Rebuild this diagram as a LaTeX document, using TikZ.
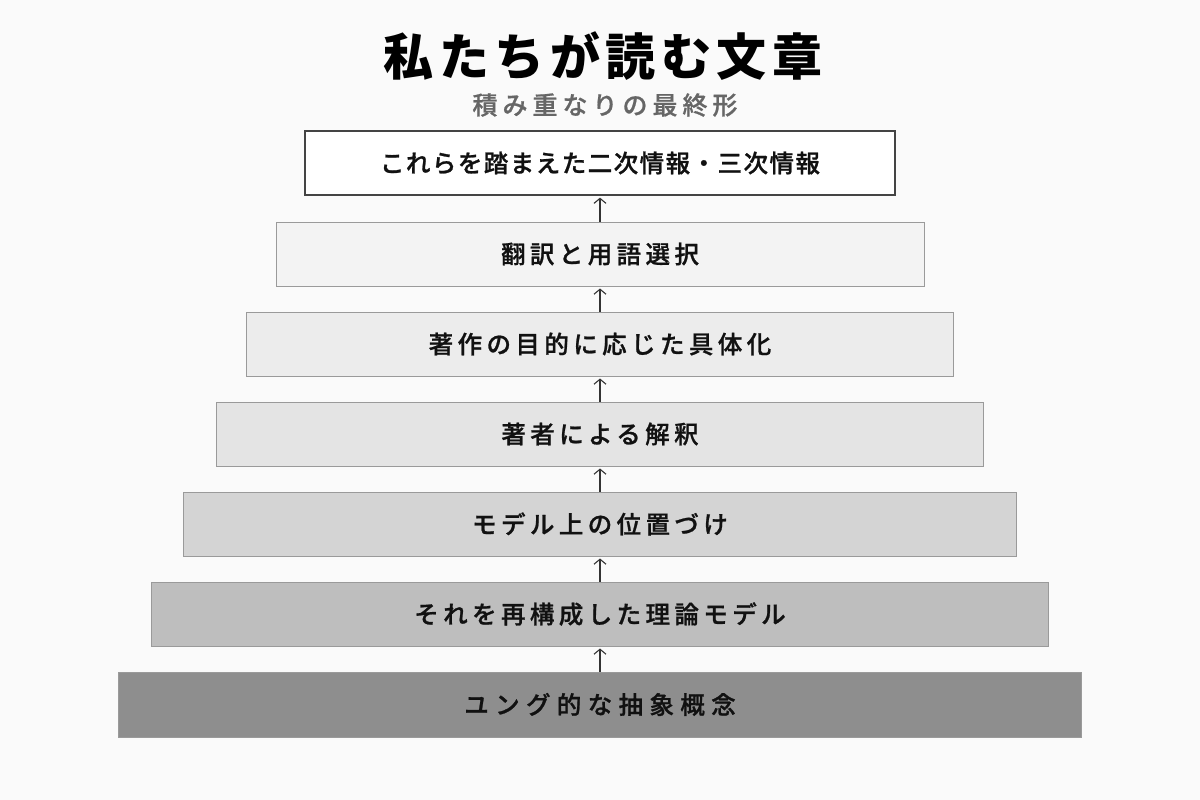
\documentclass[tikz,border=0pt]{standalone}
\usepackage{fontspec}
\usetikzlibrary{arrows.meta}
\IfFontExistsTF{Noto Sans CJK JP Medium}{\def\jpmed{Noto Sans CJK JP Medium}}{\def\jpmed{Noto Sans CJK JP}}
\newfontfamily\titlefont[LetterSpace=11]{Noto Sans CJK JP}
\newfontfamily\subfont[LetterSpace=20,FakeBold=0.8]{\jpmed}
\newfontfamily\boxfont[LetterSpace=18,FakeBold=1.0]{\jpmed}
\newfontfamily\boxfonttop[LetterSpace=6,FakeBold=1.0]{\jpmed}
\newfontfamily\boxfontbot[LetterSpace=26,FakeBold=1.0]{\jpmed}
\definecolor{bg}{HTML}{FAFAFA}
\definecolor{edge}{HTML}{9A9A9A}
\definecolor{edgetop}{HTML}{444444}
\definecolor{arrowc}{HTML}{333333}
\definecolor{subc}{HTML}{666666}
\definecolor{txt}{HTML}{111111}
\begin{document}
\begin{tikzpicture}[x=1pt,y=-1pt,
  layer/.style={draw=edge, line width=1pt, minimum height=64pt, inner sep=0pt, text=txt, font=\boxfont\fontsize{24.5}{28}\selectfont},
  arr/.style={draw=arrowc, line width=1.1pt, -{Straight Barb[length=5pt,width=12pt]}, shorten >=2pt}]
\path[fill=bg] (0,0) rectangle (1200,800);
\useasboundingbox (0,0) rectangle (1200,800);
\node[text=black, font=\titlefont\bfseries\fontsize{50}{58}\selectfont] (title) at (603,56) {私たちが読む文章};
\node[text=subc, font=\subfont\fontsize{25}{28}\selectfont] (sub) at (605,105) {積み重なりの最終形};
\node[layer, draw=edgetop, line width=1.3pt, fill=white, minimum width=590pt, font=\boxfonttop\fontsize{24.5}{28}\selectfont] (b1) at (600,163) {これらを踏まえた二次情報・三次情報};
\node[layer, fill={rgb,255:red,243;green,243;blue,243}, minimum width=648pt] (b2) at (600,254) {翻訳と用語選択};
\node[layer, fill={rgb,255:red,236;green,236;blue,236}, minimum width=707pt] (b3) at (600,344) {著作の目的に応じた具体化};
\node[layer, fill={rgb,255:red,228;green,228;blue,228}, minimum width=767pt] (b4) at (600,434) {著者による解釈};
\node[layer, fill={rgb,255:red,212;green,212;blue,212}, minimum width=833pt] (b5) at (600,524) {モデル上の位置づけ};
\node[layer, fill={rgb,255:red,190;green,190;blue,190}, minimum width=897pt] (b6) at (600,614) {それを再構成した理論モデル};
\node[layer, fill={rgb,255:red,142;green,142;blue,142}, minimum width=963pt, minimum height=65pt, font=\boxfontbot\fontsize{24.5}{28}\selectfont] (b7) at (600,704.5) {ユング的な抽象概念};
\draw[arr] (b2.north) -- (b1.south);
\draw[arr] (b3.north) -- (b2.south);
\draw[arr] (b4.north) -- (b3.south);
\draw[arr] (b5.north) -- (b4.south);
\draw[arr] (b6.north) -- (b5.south);
\draw[arr] (b7.north) -- (b6.south);
\end{tikzpicture}
\end{document}
